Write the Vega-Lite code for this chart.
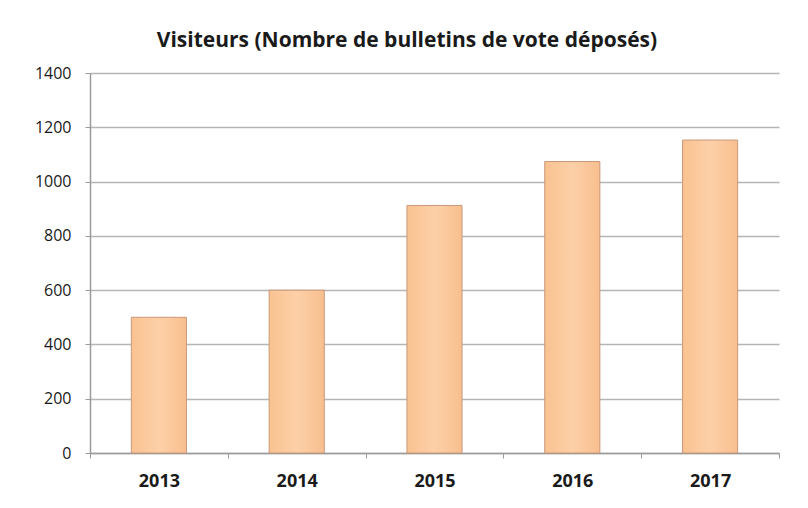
{
  "$schema": "https://vega.github.io/schema/vega-lite/v6.json",
  "width": 808,
  "height": 508,
  "autosize": {"type": "fit", "contains": "padding"},
  "padding": {"left": 34, "top": 30, "right": 28, "bottom": 18},
  "background": "white",
  "title": {
    "text": "Visiteurs (Nombre de bulletins de vote déposés)",
    "font": "Open Sans",
    "fontSize": 21,
    "fontWeight": "bold",
    "color": "#1a1a1a",
    "anchor": "middle",
    "frame": "bounds",
    "offset": 14
  },
  "data": {
    "values": [
      {"year": "2013", "visiteurs": 500},
      {"year": "2014", "visiteurs": 600},
      {"year": "2015", "visiteurs": 912},
      {"year": "2016", "visiteurs": 1074},
      {"year": "2017", "visiteurs": 1153}
    ]
  },
  "mark": {
    "type": "bar",
    "width": {"band": 0.4},
    "stroke": "#c9987a",
    "strokeWidth": 1,
    "color": {
      "gradient": "linear",
      "x1": 0, "y1": 0, "x2": 1, "y2": 0,
      "stops": [
        {"offset": 0, "color": "#f9c290"},
        {"offset": 0.5, "color": "#fdd0a8"},
        {"offset": 1, "color": "#f8bf8e"}
      ]
    }
  },
  "encoding": {
    "x": {
      "field": "year",
      "type": "ordinal",
      "title": null,
      "scale": {"paddingInner": 0, "paddingOuter": 0},
      "axis": {
        "labelAngle": 0,
        "labelFont": "Open Sans",
        "labelFontSize": 18,
        "labelFontWeight": "bold",
        "labelColor": "#1a1a1a",
        "labelPadding": 14,
        "tickBand": "extent",
        "tickSize": 5,
        "tickColor": "#9a9a9a",
        "domainColor": "#9a9a9a",
        "domainWidth": 1.5,
        "grid": false
      }
    },
    "y": {
      "field": "visiteurs",
      "type": "quantitative",
      "title": null,
      "scale": {"domain": [0, 1400], "nice": false},
      "axis": {
        "values": [0, 200, 400, 600, 800, 1000, 1200, 1400],
        "format": "d",
        "labelFont": "Open Sans",
        "labelFontSize": 16,
        "labelColor": "#1a1a1a",
        "labelPadding": 14,
        "tickSize": 5,
        "tickColor": "#9a9a9a",
        "domainColor": "#9a9a9a",
        "domainWidth": 1.5,
        "gridColor": "#b5b5b5",
        "gridWidth": 1.6
      }
    }
  },
  "config": {"view": {"stroke": null}}
}
